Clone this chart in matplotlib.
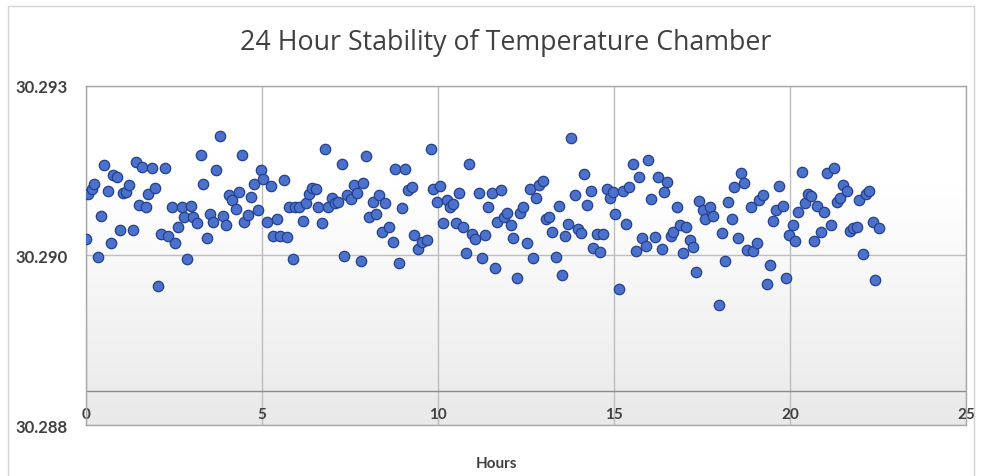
import numpy as np
import matplotlib.pyplot as plt
from matplotlib.patches import Rectangle

plt.rcParams['font.family'] = ['Lato', 'DejaVu Sans']

# readings from the chart (hours, temperature)
hours = [0.00, 0.07, 0.16, 0.24, 0.35, 0.43, 0.51, 0.62, 0.70, 0.78,
         0.89, 0.97, 1.06, 1.14, 1.23, 1.33, 1.42, 1.51, 1.59, 1.70,
         1.77, 1.87, 1.97, 2.04, 2.13, 2.24, 2.34, 2.43, 2.53, 2.62,
         2.72, 2.78, 2.88, 2.98, 3.05, 3.14, 3.26, 3.33, 3.43, 3.52,
         3.61, 3.69, 3.80, 3.88, 3.97, 4.06, 4.15, 4.25, 4.34, 4.42,
         4.48, 4.59, 4.69, 4.78, 4.89, 4.97, 5.03, 5.15, 5.24, 5.32,
         5.43, 5.51, 5.62, 5.70, 5.77, 5.89, 5.93, 6.06, 6.15, 6.25,
         6.34, 6.43, 6.52, 6.60, 6.71, 6.79, 6.88, 6.98, 7.07, 7.16,
         7.26, 7.33, 7.40, 7.52, 7.61, 7.69, 7.80, 7.87, 7.95, 8.04,
         8.14, 8.22, 8.33, 8.40, 8.49, 8.61, 8.71, 8.77, 8.89, 8.96,
         9.06, 9.15, 9.25, 9.32, 9.43, 9.53, 9.67, 9.79, 9.86, 9.96,
         10.05, 10.14, 10.24, 10.34, 10.41, 10.51, 10.60, 10.70, 10.79, 10.87,
         10.96, 11.05, 11.15, 11.24, 11.33, 11.41, 11.52, 11.60, 11.68, 11.78,
         11.87, 11.96, 12.06, 12.13, 12.23, 12.33, 12.42, 12.51, 12.61, 12.70,
         12.78, 12.87, 12.97, 13.05, 13.14, 13.24, 13.34, 13.43, 13.51, 13.60,
         13.69, 13.77, 13.88, 13.98, 14.05, 14.14, 14.23, 14.33, 14.40, 14.50,
         14.59, 14.69, 14.78, 14.88, 14.95, 15.03, 15.13, 15.24, 15.33, 15.43,
         15.52, 15.62, 15.70, 15.80, 15.89, 15.97, 16.05, 16.15, 16.23, 16.35,
         16.42, 16.51, 16.60, 16.68, 16.77, 16.87, 16.96, 17.04, 17.15, 17.23,
         17.32, 17.41, 17.51, 17.58, 17.72, 17.81, 17.98, 18.05, 18.14, 18.24,
         18.33, 18.41, 18.52, 18.60, 18.68, 18.78, 18.87, 18.95, 19.06, 19.12,
         19.23, 19.33, 19.42, 19.50, 19.59, 19.68, 19.78, 19.88, 19.97, 20.06,
         20.14, 20.22, 20.34, 20.42, 20.50, 20.59, 20.68, 20.75, 20.87, 20.95,
         21.03, 21.15, 21.25, 21.31, 21.41, 21.50, 21.60, 21.69, 21.79, 21.88,
         21.96, 22.05, 22.15, 22.24, 22.34, 22.41, 22.52]

temps = [30.29024, 30.29090, 30.29098, 30.29105, 30.28997, 30.29058, 30.29133, 30.29094, 30.29018, 30.29118,
         30.29115, 30.29037, 30.29092, 30.29093, 30.29103, 30.29037, 30.29137, 30.29074, 30.29130, 30.29071,
         30.29090, 30.29129, 30.29099, 30.28955, 30.29031, 30.29129, 30.29029, 30.29071, 30.29018, 30.29042,
         30.29071, 30.29057, 30.28994, 30.29073, 30.29057, 30.29047, 30.29147, 30.29105, 30.29025, 30.29061,
         30.29049, 30.29126, 30.29176, 30.29058, 30.29044, 30.29089, 30.29082, 30.29068, 30.29093, 30.29147,
         30.29049, 30.29059, 30.29086, 30.29105, 30.29066, 30.29125, 30.29113, 30.29049, 30.29102, 30.29029,
         30.29054, 30.29029, 30.29111, 30.29027, 30.29071, 30.28994, 30.29071, 30.29071, 30.29050, 30.29077,
         30.29090, 30.29099, 30.29097, 30.29071, 30.29047, 30.29156, 30.29071, 30.29084, 30.29077, 30.29079,
         30.29134, 30.28999, 30.29089, 30.29083, 30.29104, 30.29092, 30.28992, 30.29107, 30.29146, 30.29056,
         30.29078, 30.29061, 30.29089, 30.29034, 30.29077, 30.29041, 30.29020, 30.29127, 30.28989, 30.29070,
         30.29127, 30.29096, 30.29101, 30.29030, 30.29009, 30.29019, 30.29022, 30.29156, 30.29098, 30.29079,
         30.29102, 30.29047, 30.29082, 30.29071, 30.29075, 30.29047, 30.29091, 30.29041, 30.29003, 30.29134,
         30.29031, 30.29024, 30.29091, 30.28996, 30.29030, 30.29071, 30.29091, 30.28981, 30.29049, 30.29096,
         30.29057, 30.29062, 30.29044, 30.29025, 30.28966, 30.29062, 30.29071, 30.29018, 30.29098, 30.28996,
         30.29084, 30.29103, 30.29110, 30.29053, 30.29057, 30.29035, 30.28998, 30.29072, 30.28971, 30.29029,
         30.29046, 30.29172, 30.29089, 30.29039, 30.29033, 30.29120, 30.29074, 30.29094, 30.29011, 30.29031,
         30.29005, 30.29031, 30.29098, 30.29085, 30.29093, 30.29061, 30.28950, 30.29095, 30.29046, 30.29101,
         30.29134, 30.29007, 30.29115, 30.29025, 30.29014, 30.29140, 30.29083, 30.29027, 30.29115, 30.29009,
         30.29093, 30.29108, 30.29029, 30.29034, 30.29071, 30.29044, 30.29003, 30.29042, 30.29023, 30.29012,
         30.28976, 30.29080, 30.29067, 30.29053, 30.29071, 30.29058, 30.28927, 30.29033, 30.28992, 30.29079,
         30.29053, 30.29101, 30.29025, 30.29121, 30.29107, 30.29008, 30.29071, 30.29007, 30.29018, 30.29082,
         30.29089, 30.28958, 30.28986, 30.29051, 30.29067, 30.29102, 30.29073, 30.28967, 30.29030, 30.29044,
         30.29021, 30.29064, 30.29122, 30.29077, 30.29090, 30.29087, 30.29021, 30.29072, 30.29034, 30.29063,
         30.29121, 30.29044, 30.29128, 30.29079, 30.29085, 30.29103, 30.29095, 30.29036, 30.29040, 30.29042,
         30.29082, 30.29002, 30.29090, 30.29094, 30.29049, 30.28964, 30.29040]

x_ticks = [0, 5, 10, 15, 20, 25]
y_ticks = [30.2875, 30.2900, 30.2925]
y_labels = ["30.288", "30.290", "30.293"]
axis_cross = 30.288

fig = plt.figure(figsize=(9.84, 4.77), dpi=100)

# chart border
fig.patches.append(Rectangle((8 / 984, -0.05), 966 / 984, 1.05 - 7 / 477,
                             transform=fig.transFigure, fill=False,
                             edgecolor="#d4d4d4", lw=1))

ax = fig.add_axes([0.0874, 0.1069, 0.8948, 0.7117])

# plot area gradient (white -> light grey)
t = np.linspace(0, 1, 256)
shade = 1 - np.clip((t - 0.3) / 0.7, 0, 1) * 0.085
img = np.dstack([shade, shade, shade]).reshape(-1, 1, 3)
ax.imshow(img, extent=[0, 1, 0, 1], transform=ax.transAxes,
          aspect="auto", origin="upper", zorder=0)

ax.scatter(hours, temps, s=56, facecolor="#4b71cc", edgecolor="#23408c",
           linewidth=0.9, zorder=3)

ax.set_xlim(0, 25)
ax.set_ylim(30.2875, 30.2925)
ax.set_xticks(x_ticks)
ax.set_yticks(y_ticks)
ax.set_yticklabels(y_labels)

ax.grid(True, color="#bdbdbd", lw=1, zorder=1)
ax.set_axisbelow(True)
ax.axhline(axis_cross, color="#8a8a8a", lw=1, zorder=2)

for s in ax.spines.values():
    s.set_color("#a8a8a8")
    s.set_linewidth(1)

ax.tick_params(axis="x", length=0, pad=-13, labelsize=11, labelcolor="#404040")
ax.tick_params(axis="y", length=0, pad=13.5, labelsize=12, labelcolor="#404040")
for lab in ax.get_xticklabels() + ax.get_yticklabels():
    lab.set_fontweight("bold")

fig.text(0.514, 0.91, "24 Hour Stability of Temperature Chamber",
         ha="center", va="center", fontsize=19.3, color="#404040",
         family=["Open Sans", "DejaVu Sans"])
fig.text(0.505, 0.027, "Hours", ha="center", va="center",
         fontsize=11, fontweight="bold", color="#404040")

fig.savefig("out.png", dpi=100)
